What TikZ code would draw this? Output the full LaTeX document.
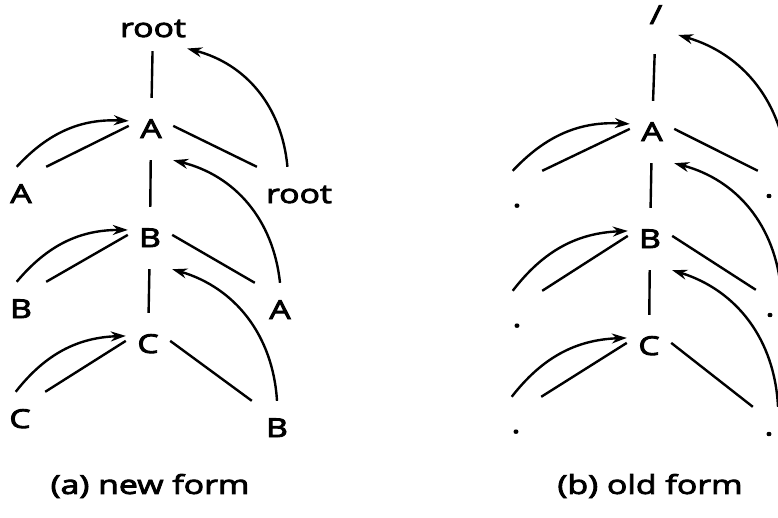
\documentclass[tikz,border=0pt]{standalone}
\usepackage{fontspec}
\setmainfont{Open Sans}[FakeStretch=1.3, FakeBold=3.5]
\usetikzlibrary{arrows.meta}

\tikzset{
  spine/.style={minimum width=42pt, minimum height=60pt, inner sep=0pt, text height=18pt, text depth=0pt},
  leaf/.style={minimum width=48pt, minimum height=52pt, inner sep=8pt, text height=18pt, text depth=0pt},
  hop/.style={-{Stealth[length=15pt, width=10pt]}},
}

\begin{document}
\begin{tikzpicture}[x=1pt, y=-1pt, line width=2.4pt, font=\fontsize{26}{30}\selectfont]
    \useasboundingbox (0,0) rectangle (778,517);
    \clip (0,0) rectangle (778,517);

        % ====================
        % (a) new form
        % ====================
        \begin{scope}
            \node[spine, minimum height=44pt] (nRoot) at (153,28) {root};
            \node[spine] (nA) at (151,129) {A};
            \node[spine] (nB) at (150,238) {B};
            \node[spine] (nC) at (148,344) {C};

            \node[leaf] (nL1) at (21,194) {A};
            \node[leaf] (nR1) at (299,194) {root};
            \node[leaf] (nL2) at (21,309) {B};
            \node[leaf] (nR2) at (280,310) {A};
            \node[leaf] (nL3) at (20,419) {C};
            \node[leaf] (nR3) at (277,428) {B};

            % tree edges
            \draw (nRoot) -- (nA);
            \draw (nA) -- (nB);
            \draw (nB) -- (nC);
            \draw (nA.172) -- (nL1.north east);
            \draw (nA.8) -- (nR1.north west);
            \draw (nB.172) -- (nL2.north east);
            \draw (nB.8) -- (nR2.north west);
            \draw (nC.172) -- (nL3.north east);
            \draw (nC.8) -- (nR3.north west);

            % links
            \draw[hop] (nL1.99) to[bend left=25] (nA.160);
            \draw[hop] (nL2.99) to[bend left=25] (nB.160);
            \draw[hop] (nL3.99) to[bend left=25] (nC.160);
            \draw[hop] (nR1.113) to[bend right=35] (nRoot.-31);
            \draw[hop] (nR2.north) to[bend right=35] (nA.south east);
            \draw[hop] (nR3.north) to[bend right=35] (nB.south east);

            \node (nCap) at (150,486) {(a) new form};
        \end{scope}

        % ====================
        % (b) old form
        % ====================
        \begin{scope}
            \node[spine, minimum height=76pt] (oRoot) at (656,15) {/};
            \node[spine] (oA) at (652,132) {A};
            \node[spine] (oB) at (650,239) {B};
            \node[spine] (oC) at (649,346) {C};

            \node[leaf] (oL1) at (517,198) {.};
            \node[leaf, minimum width=80pt] (oR1) at (799,198) {};
            \node[leaf] (oL2) at (517,318) {.};
            \node[leaf] (oR2) at (781,317) {};
            \node[leaf] (oL3) at (516,424) {.};
            \node[leaf] (oR3) at (778,434) {};

            % dots left of the cut-off right leaves
            \node (oD1) at (769,196) {.};
            \node (oD2) at (770,315) {.};
            \node (oD3) at (769,434) {.};

            % tree edges
            \draw (oRoot) -- (oA);
            \draw (oA) -- (oB);
            \draw (oB) -- (oC);
            \draw (oA.172) -- (oL1.north east);
            \draw (oA.8) -- (oR1.north west);
            \draw (oB.172) -- (oL2.north east);
            \draw (oB.8) -- (oR2.north west);
            \draw (oC.172) -- (oL3.north east);
            \draw (oC.8) -- (oR3.north west);

            % links
            \draw[hop] (oL1.99) to[bend left=25] (oA.160);
            \draw[hop] (oL2.99) to[bend left=25] (oB.160);
            \draw[hop] (oL3.99) to[bend left=25] (oC.160);
            \draw[hop] (oR1.113) to[bend right=35] (oRoot.-42);
            \draw[hop] (oR2.north) to[bend right=35] (oA.south east);
            \draw[hop] (oR3.north) to[bend right=35] (oB.south east);

            \node (oCap) at (650,486) {(b) old form};
        \end{scope}

    \end{tikzpicture}
\end{document}
